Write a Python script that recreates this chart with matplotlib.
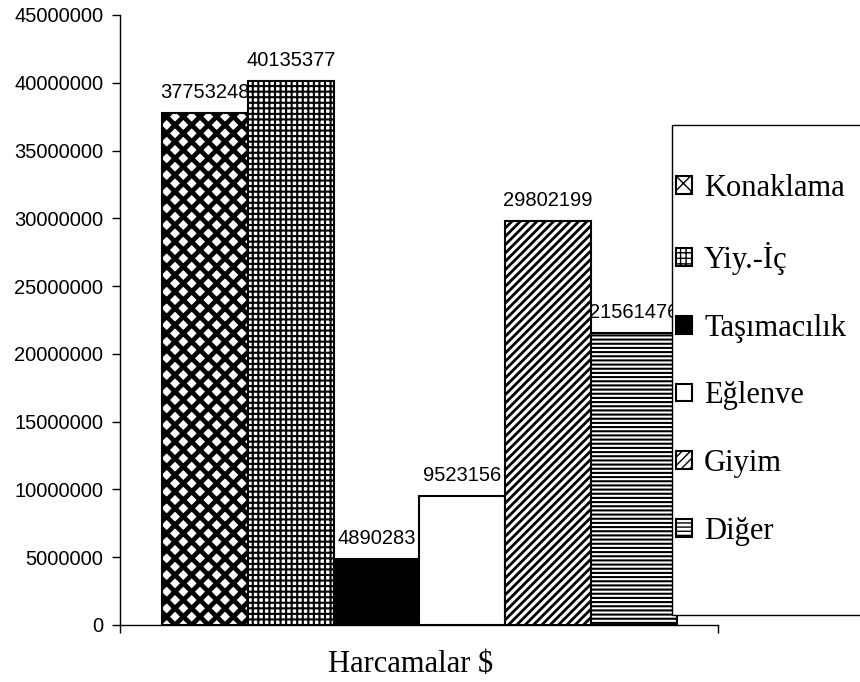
import numpy as np
import matplotlib
matplotlib.use("Agg")
import matplotlib.pyplot as plt
from matplotlib.patches import Rectangle

# Veriler
kategoriler = ["Konaklama", "Yiy.-İç", "Taşımacılık", "Eğlenve", "Giyim", "Diğer"]
harcamalar = [37753248, 40135377, 4890283, 9523156, 29802199, 21561476]
y_ticks = [0, 5000000, 10000000, 15000000, 20000000, 25000000,
           30000000, 35000000, 40000000, 45000000]
x_baslik = "Harcamalar $"

# desen, dolgu, desen kalinligi
desenler = [
    ("xx", "white", 3.4),
    ("+++", "white", 1.5),
    ("", "black", 1.0),
    ("", "white", 1.0),
    ("////", "white", 2.0),
    ("----", "white", 1.5),
]

SANS = "Liberation Sans"
SERIF = "Liberation Serif"

fig = plt.figure(figsize=(8.6, 6.82), dpi=100)
ax = fig.add_axes([120 / 860, 57 / 682, 598 / 860, 610 / 682])

x = np.arange(len(harcamalar))
bars = ax.bar(x, harcamalar, width=1.0, edgecolor="black", linewidth=1.5, zorder=3)
for bar, (hatch, face, hlw) in zip(bars, desenler):
    bar.set_facecolor(face)
    bar.set_hatch(hatch)
    if hasattr(bar, "set_hatch_linewidth"):
        bar.set_hatch_linewidth(hlw)

for xi, v in zip(x, harcamalar):
    ax.annotate(f"{v}", (xi, v), xytext=(0, 8), textcoords="offset points",
                ha="center", va="bottom", fontsize=14.5, family=SANS, zorder=2)

ax.set_xlim(-0.99, 5.98)
ax.set_ylim(0, 45000000)
ax.set_yticks(y_ticks)
ax.set_yticklabels([str(t) for t in y_ticks], fontsize=14.5, family=SANS)
ax.set_xticks(ax.get_xlim())
ax.set_xticklabels([])
ax.tick_params(axis="both", direction="out", length=6, width=1, pad=6)

for s in ["top", "right"]:
    ax.spines[s].set_visible(False)
for s in ["left", "bottom"]:
    ax.spines[s].set_linewidth(1)

ax.set_xlabel(x_baslik, fontsize=22, family=SERIF)
ax.xaxis.set_label_coords((411 - 120) / 598, -(664 - 625) / 610)
ax.xaxis.label.set_va("center")

# Lejant cercevesi
cerceve = Rectangle((672 / 860, (682 - 615) / 682), 0.3, (615 - 125) / 682,
                    transform=fig.transFigure, facecolor="white",
                    edgecolor="black", linewidth=1, zorder=1)
fig.add_artist(cerceve)

fig.legend(bars, kategoriler, loc="upper left",
           bbox_to_anchor=(676 / 860, 1 - 174 / 682),
           bbox_transform=fig.transFigure, frameon=False, borderpad=0,
           borderaxespad=0, handlelength=0.52, handleheight=0.52,
           handletextpad=0.4, labelspacing=1.27,
           prop={"family": SERIF, "size": 22})

fig.savefig("out.png", dpi=100)
